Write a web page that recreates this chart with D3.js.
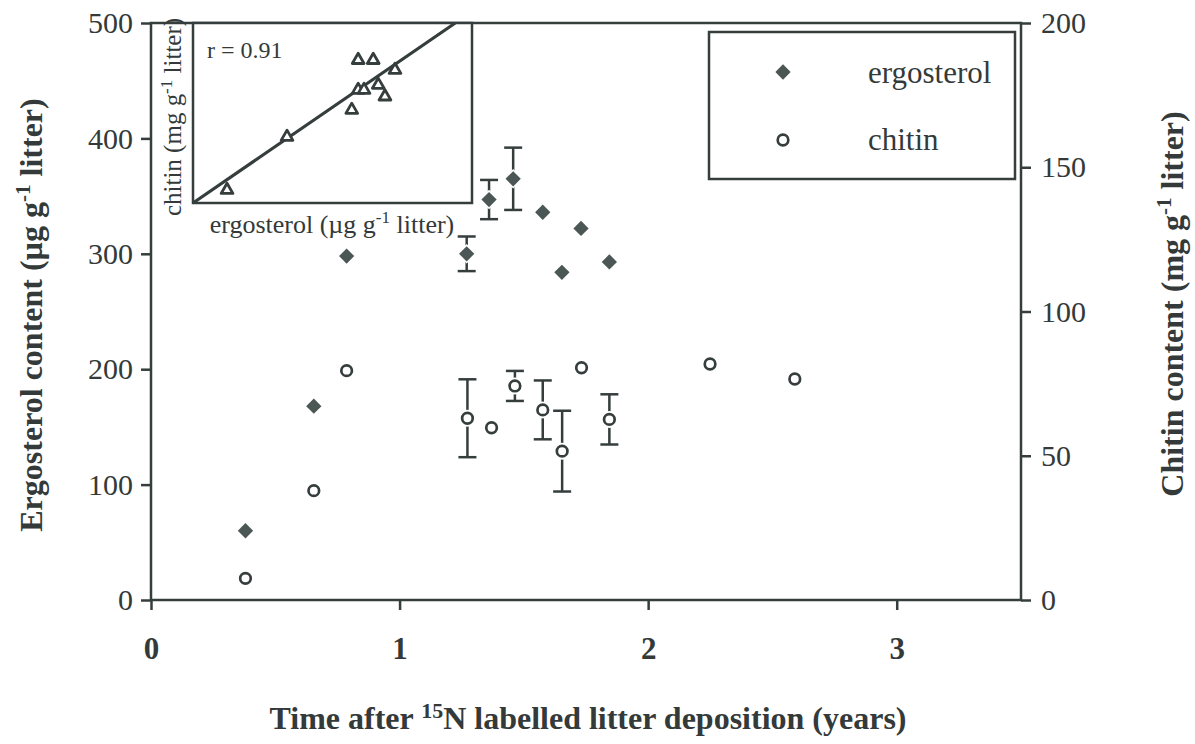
<!DOCTYPE html>
<html><head><meta charset="utf-8">
<script src="https://cdn.jsdelivr.net/npm/d3@7"></script>
<style>
html,body{margin:0;padding:0;background:#fff;}
svg{display:block;}
text{font-family:"Liberation Serif","Times New Roman",serif;fill:#333a39;}
</style></head>
<body>
<svg id="chart" width="1195" height="744"></svg>
<script>
// ---- data ----
const ergTime  = [0.38, 0.655, 0.787, 1.27, 1.36, 1.457, 1.576, 1.653, 1.73, 1.844];
const ergValue = [60, 168, 298, 300, 347, 365, 336, 284, 322, 293];
const ergErr   = [null, null, null, 15, 17, 27, null, null, null, null];

const chiTime  = [0.38, 0.655, 0.787, 1.273, 1.37, 1.464, 1.576, 1.654, 1.732, 1.844, 2.249, 2.59];
const chiValue = [7.5, 37.9, 79.5, 63, 59.7, 74.2, 65.9, 51.6, 80.5, 62.6, 81.8, 76.6];
const chiErr   = [null, null, null, 13.5, null, 5.2, 10.2, 14, null, 8.7, null, null];

const xTicks = [0, 1, 2, 3];
const yLeftTicks = [0, 100, 200, 300, 400, 500];
const yRightTicks = [0, 50, 100, 150, 200];

// inset (relative units)
const insetErg = [12.2, 33.7, 56.9, 59.2, 61.3, 59.2, 64.6, 66.4, 68.8, 72.4];
const insetChi = [7.2, 36.7, 51.7, 62.8, 62.8, 79.4, 79.4, 65.6, 59.1, 73.9];
const insetLineX = [0, 94];
const insetLineY = [0, 100];
const insetR = "r = 0.91";

const legendLabels = ["ergosterol", "chitin"];

// ---- layout ----
const ink = "#353e3d";
const fillInk = "#4b5754";
const svg = d3.select("#chart");
const L = 151, R = 1021, T = 23, B = 600;

const x = d3.scaleLinear().domain([0, 3.5]).range([L, R]);
const yL = d3.scaleLinear().domain([0, 500]).range([B, T]);
const yR = d3.scaleLinear().domain([0, 200]).range([B, T]);

function styleAxis(g, bold, size) {
  g.select(".domain").remove();
  g.selectAll(".tick line").attr("stroke", ink).attr("stroke-width", 2.5);
  g.selectAll(".tick text").attr("fill", "#333a39")
    .style("font-family", '"Liberation Serif",serif')
    .style("font-size", size + "px")
    .style("font-weight", bold ? "bold" : "normal");
}

svg.append("g").attr("transform", `translate(${L},0)`)
  .call(d3.axisLeft(yL).tickValues(yLeftTicks).tickSize(10).tickPadding(8).tickFormat(d3.format("d")))
  .call(g => styleAxis(g, false, 30));

svg.append("g").attr("transform", `translate(${R},0)`)
  .call(d3.axisRight(yR).tickValues(yRightTicks).tickSize(10).tickPadding(10).tickFormat(d3.format("d")))
  .call(g => styleAxis(g, false, 30));

svg.append("g").attr("transform", `translate(0,${B})`)
  .call(d3.axisBottom(x).tickValues(xTicks).tickSize(10).tickPadding(27).tickFormat(d3.format("d")))
  .call(g => styleAxis(g, true, 31));

// frame
svg.append("rect").attr("x", L).attr("y", T).attr("width", R - L).attr("height", B - T)
  .attr("fill", "none").attr("stroke", ink).attr("stroke-width", 2.5);

// axis titles
const yt = svg.append("text").attr("transform", "translate(42,315) rotate(-90)")
  .attr("text-anchor", "middle").style("font-size", "32px").style("font-weight", "bold");
yt.append("tspan").text("Ergosterol content (µg g");
yt.append("tspan").attr("dy", -12).style("font-size", "21px").text("-1");
yt.append("tspan").attr("dy", 12).text(" litter)");

const yrt = svg.append("text").attr("transform", "translate(1183,304) rotate(-90)")
  .attr("text-anchor", "middle").style("font-size", "32px").style("font-weight", "bold");
yrt.append("tspan").text("Chitin content (mg g");
yrt.append("tspan").attr("dy", -12).style("font-size", "21px").text("-1");
yrt.append("tspan").attr("dy", 12).text(" litter)");

const xt = svg.append("text").attr("x", 588).attr("y", 729)
  .attr("text-anchor", "middle").style("font-size", "32px").style("font-weight", "bold");
xt.append("tspan").text("Time after ");
xt.append("tspan").attr("dy", -11).style("font-size", "22px").text("15");
xt.append("tspan").attr("dy", 11).text("N labelled litter deposition (years)");

// ---- markers ----
function drawDiamond(g, cx, cy) {
  g.append("rect").attr("x", -5.4).attr("y", -5.4).attr("width", 10.8).attr("height", 10.8)
    .attr("transform", `translate(${cx},${cy}) rotate(45)`)
    .attr("fill", fillInk).attr("stroke", "#fff").attr("stroke-width", 3).attr("paint-order", "stroke");
}
function drawCircle(g, cx, cy) {
  g.append("circle").attr("cx", cx).attr("cy", cy).attr("r", 8.5).attr("fill", "#fff");
  g.append("circle").attr("cx", cx).attr("cy", cy).attr("r", 5.3)
    .attr("fill", "#fff").attr("stroke", ink).attr("stroke-width", 2.7);
}
function errBar(g, cx, yScale, v, e) {
  const y1 = yScale(v + e), y2 = yScale(v - e);
  g.append("line").attr("x1", cx).attr("x2", cx).attr("y1", y1).attr("y2", y2)
    .attr("stroke", ink).attr("stroke-width", 2.5);
  [y1, y2].forEach(yy => g.append("line").attr("x1", cx - 9).attr("x2", cx + 9)
    .attr("y1", yy).attr("y2", yy).attr("stroke", ink).attr("stroke-width", 2.5));
}

const gErr = svg.append("g");
const gPts = svg.append("g");
ergTime.forEach((t, i) => { if (ergErr[i] != null) errBar(gErr, x(t), yL, ergValue[i], ergErr[i]); });
chiTime.forEach((t, i) => { if (chiErr[i] != null) errBar(gErr, x(t), yR, chiValue[i], chiErr[i]); });
ergTime.forEach((t, i) => drawDiamond(gPts, x(t), yL(ergValue[i])));
chiTime.forEach((t, i) => drawCircle(gPts, x(t), yR(chiValue[i])));

// ---- legend ----
const lg = svg.append("g");
lg.append("rect").attr("x", 709).attr("y", 32).attr("width", 306).attr("height", 147)
  .attr("fill", "#fff").attr("stroke", ink).attr("stroke-width", 2.5);
drawDiamond(lg, 783, 72);
drawCircle(lg, 783, 140);
lg.append("text").attr("x", 868).attr("y", 83).style("font-size", "31px").text(legendLabels[0]);
lg.append("text").attr("x", 868).attr("y", 150).style("font-size", "31px").text(legendLabels[1]);

// ---- inset ----
const iL = 193, iR = 472, iT = 23, iB = 203;
const ix = d3.scaleLinear().domain([0, 100]).range([iL, iR]);
const iy = d3.scaleLinear().domain([0, 100]).range([iB, iT]);
const ig = svg.append("g");
ig.append("rect").attr("x", iL).attr("y", iT).attr("width", iR - iL).attr("height", iB - iT)
  .attr("fill", "#fff").attr("stroke", ink).attr("stroke-width", 2.5);
ig.append("line").attr("x1", ix(insetLineX[0])).attr("y1", iy(insetLineY[0]))
  .attr("x2", ix(insetLineX[1])).attr("y2", iy(insetLineY[1]))
  .attr("stroke", ink).attr("stroke-width", 3.2);
const tri = d3.symbol().type(d3.symbolTriangle).size(60);
insetErg.forEach((v, i) => {
  ig.append("path").attr("d", tri()).attr("transform", `translate(${ix(v)},${iy(insetChi[i])})`)
    .attr("fill", "#fff").attr("stroke", ink).attr("stroke-width", 2.8).attr("stroke-linejoin", "round");
});
ig.append("text").attr("x", 207).attr("y", 58).style("font-size", "24px").text(insetR);
const ixl = ig.append("text").attr("x", 332).attr("y", 233).attr("text-anchor", "middle").style("font-size", "26px");
ixl.append("tspan").text("ergosterol (µg g");
ixl.append("tspan").attr("dy", -10).style("font-size", "17px").text("-1");
ixl.append("tspan").attr("dy", 10).text(" litter)");
const iyl = ig.append("text").attr("transform", "translate(181,117) rotate(-90)").attr("text-anchor", "middle").style("font-size", "25px");
iyl.append("tspan").text("chitin (mg g");
iyl.append("tspan").attr("dy", -9).style("font-size", "17px").text("-1");
iyl.append("tspan").attr("dy", 9).text(" litter)");
</script>
</body></html>
